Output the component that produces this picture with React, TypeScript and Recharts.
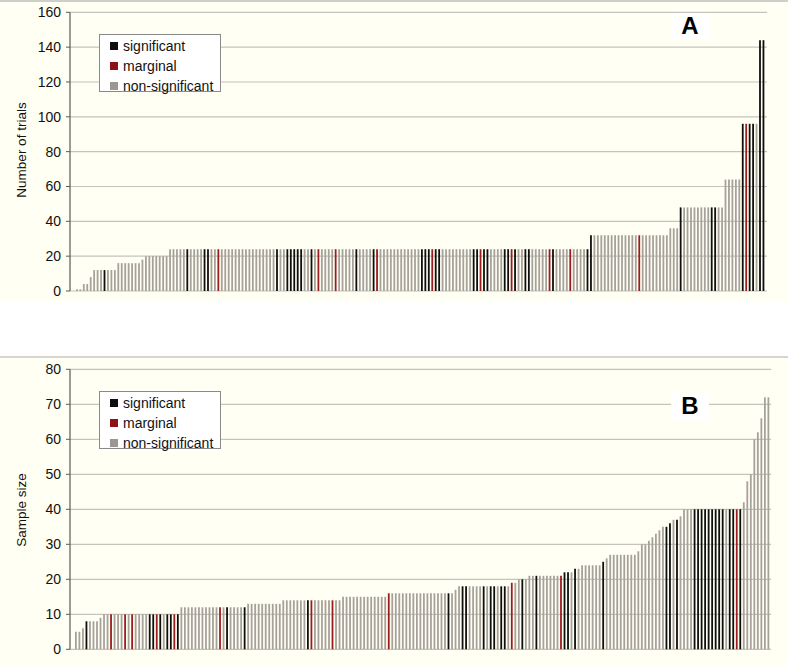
import React from "react";
import { BarChart, Bar, XAxis, YAxis, CartesianGrid, Cell } from "recharts";

// Panel A: number of trials per study (sorted)
const trialCounts = [
  1, 1, 4, 4, 8, 12, 12, 12, 12, 12, 12, 12, 16, 16, 16, 16, 16, 16, 16, 18,
  20, 20, 20, 20, 20, 20, 20, 24, 24, 24, 24, 24, 24, 24, 24, 24, 24, 24, 24, 24,
  24, 24, 24, 24, 24, 24, 24, 24, 24, 24, 24, 24, 24, 24, 24, 24, 24, 24, 24, 24,
  24, 24, 24, 24, 24, 24, 24, 24, 24, 24, 24, 24, 24, 24, 24, 24, 24, 24, 24, 24,
  24, 24, 24, 24, 24, 24, 24, 24, 24, 24, 24, 24, 24, 24, 24, 24, 24, 24, 24, 24,
  24, 24, 24, 24, 24, 24, 24, 24, 24, 24, 24, 24, 24, 24, 24, 24, 24, 24, 24, 24,
  24, 24, 24, 24, 24, 24, 24, 24, 24, 24, 24, 24, 24, 24, 24, 24, 24, 24, 24, 24,
  24, 24, 24, 24, 24, 24, 24, 24, 24, 32, 32, 32, 32, 32, 32, 32, 32, 32, 32, 32,
  32, 32, 32, 32, 32, 32, 32, 32, 32, 32, 32, 32, 36, 36, 36, 48, 48, 48, 48, 48,
  48, 48, 48, 48, 48, 48, 48, 48, 64, 64, 64, 64, 64, 96, 96, 96, 96, 96, 144, 144,
];
const trialsSignificant = [
  8, 32, 37, 38, 58, 61, 62, 63, 64, 65, 68, 81, 86, 100, 101, 102, 104, 105,
  115, 116, 118, 119, 124, 125, 127, 130, 131, 138, 148, 149, 175, 184, 185,
  193, 195, 196, 198, 199,
];
const trialsMarginal = [41, 70, 75, 87, 103, 117, 126, 137, 143, 163, 194];

// Panel B: sample size per study (sorted)
const sampleSizes = [
  5, 5, 6, 8, 8, 8, 8, 9, 10, 10, 10, 10, 10, 10, 10, 10, 10, 10, 10, 10,
  10, 10, 10, 10, 10, 10, 10, 10, 10, 10, 12, 12, 12, 12, 12, 12, 12, 12, 12, 12,
  12, 12, 12, 12, 12, 12, 12, 12, 12, 13, 13, 13, 13, 13, 13, 13, 13, 13, 13, 14,
  14, 14, 14, 14, 14, 14, 14, 14, 14, 14, 14, 14, 14, 14, 14, 14, 15, 15, 15, 15,
  15, 15, 15, 15, 15, 15, 15, 15, 15, 16, 16, 16, 16, 16, 16, 16, 16, 16, 16, 16,
  16, 16, 16, 16, 16, 16, 16, 16, 17, 18, 18, 18, 18, 18, 18, 18, 18, 18, 18, 18,
  18, 18, 18, 18, 19, 19, 20, 20, 20, 21, 21, 21, 21, 21, 21, 21, 21, 21, 21, 22,
  22, 22, 23, 23, 24, 24, 24, 24, 24, 24, 25, 26, 27, 27, 27, 27, 27, 27, 27, 27,
  28, 30, 30, 31, 32, 33, 34, 35, 35, 36, 37, 37, 38, 40, 40, 40, 40, 40, 40, 40,
  40, 40, 40, 40, 40, 40, 40, 40, 40, 40, 42, 48, 50, 60, 62, 66, 72, 72,
];
const sampleSignificant = [
  3, 21, 22, 24, 26, 27, 29, 43, 48, 66, 106, 110, 111, 116, 118, 119, 121, 122,
  127, 131, 139, 140, 142, 150, 168, 169, 171, 176, 177, 178, 179, 180, 181, 182,
  183, 184, 186, 187, 189,
];
const sampleMarginal = [10, 14, 16, 23, 28, 41, 67, 73, 89, 124, 138, 188];

const trialTicks = [0, 20, 40, 60, 80, 100, 120, 140, 160];
const sampleTicks = [0, 10, 20, 30, 40, 50, 60, 70, 80];
const legendLabels = ["significant", "marginal", "non-significant"];

const COLORS: Record<string, string> = {
  sig: "#0e0e0e",
  marg: "#9a1c1c",
  non: "#a7a19b",
};
const LEGEND_COLORS = ["#0e0e0e", "#8c1414", "#9c9791"];
const CREAM = "#fffff3";
const FONT = '"Liberation Sans", Arial, sans-serif';

function build(values: number[], sig: number[], marg: number[]) {
  return values.map((v, i) => ({
    i,
    v,
    s: sig.includes(i) ? "sig" : marg.includes(i) ? "marg" : "non",
  }));
}

const dataA = build(trialCounts, trialsSignificant, trialsMarginal);
const dataB = build(sampleSizes, sampleSignificant, sampleMarginal);

function LegendBox({ left, top }: { left: number; top: number }) {
  return (
    <div
      style={{
        position: "absolute",
        left,
        top,
        width: 122,
        height: 58,
        boxSizing: "border-box",
        background: "#ffffff",
        border: "1px solid #8a8a8a",
        fontFamily: FONT,
        fontSize: 14,
        color: "#111",
      }}
    >
      {legendLabels.map((lab, k) => (
        <div
          key={lab}
          style={{
            position: "absolute",
            left: 10,
            top: 2 + k * 20,
            height: 18,
            lineHeight: "18px",
            display: "flex",
            alignItems: "center",
            whiteSpace: "nowrap",
          }}
        >
          <span
            style={{
              display: "inline-block",
              width: 8,
              height: 8,
              background: LEGEND_COLORS[k],
              marginRight: 5,
            }}
          />
          {lab}
        </div>
      ))}
    </div>
  );
}

function Panel({
  data,
  top,
  height,
  margin,
  domainMax,
  ticks,
  padding,
}: {
  data: any[];
  top: number;
  height: number;
  margin: { top: number; right: number; bottom: number; left: number };
  domainMax: number;
  ticks: number[];
  padding: { left: number; right: number };
}) {
  return (
    <div style={{ position: "absolute", left: 0, top, width: 788, height }}>
      <BarChart width={788} height={height} data={data} margin={margin} barCategoryGap={0}>
        <CartesianGrid vertical={false} stroke="#c4c4bc" strokeWidth={1.2} />
        <XAxis dataKey="i" type="category" hide padding={padding} />
        <YAxis
          type="number"
          domain={[0, domainMax]}
          ticks={ticks}
          interval={0}
          width={70}
          axisLine={{ stroke: "#5a5a5a", strokeWidth: 1.2 }}
          tickLine={{ stroke: "#5a5a5a" }}
          tickSize={4}
          tickMargin={5}
          tick={{ fill: "#111", fontSize: 14, fontFamily: FONT }}
        />
        <Bar dataKey="v" barSize={1.8} isAnimationActive={false}>
          {data.map((d) => (
            <Cell key={d.i} fill={COLORS[d.s]} />
          ))}
        </Bar>
      </BarChart>
    </div>
  );
}

function AxisTitle({ text, cx, cy }: { text: string; cx: number; cy: number }) {
  return (
    <div
      style={{
        position: "absolute",
        left: cx - 100,
        top: cy - 8,
        width: 200,
        height: 16,
        lineHeight: "16px",
        textAlign: "center",
        transform: "rotate(-90deg)",
        fontFamily: FONT,
        fontSize: 13.5,
        color: "#111",
        whiteSpace: "nowrap",
      }}
    >
      {text}
    </div>
  );
}

function PanelLetter({ text, left, top }: { text: string; left: number; top: number }) {
  return (
    <div
      style={{
        position: "absolute",
        left,
        top,
        width: 38,
        height: 26,
        background: "#ffffff",
        textAlign: "center",
        lineHeight: "26px",
        fontFamily: FONT,
        fontWeight: 700,
        fontSize: 24,
        color: "#000",
      }}
    >
      {text}
    </div>
  );
}

export default function App() {
  return (
    <div
      style={{
        position: "absolute",
        left: 0,
        top: 0,
        width: 788,
        height: 667,
        background: "#ffffff",
        overflow: "hidden",
      }}
    >
      <div
        style={{
          position: "absolute",
          left: 0,
          top: 0,
          width: 788,
          height: 302,
          background: CREAM,
          borderTop: "2px solid #cfcfca",
          boxSizing: "border-box",
        }}
      />
      <div
        style={{
          position: "absolute",
          left: 0,
          top: 356,
          width: 788,
          height: 311,
          background: CREAM,
          borderTop: "2px solid #d6d6cf",
          boxSizing: "border-box",
        }}
      />
      <Panel
        data={dataA}
        top={0}
        height={300}
        margin={{ top: 12.3, right: 21, bottom: 9, left: 0 }}
        domainMax={160}
        ticks={trialTicks}
        padding={{ left: 5, right: 2 }}
      />
      <Panel
        data={dataB}
        top={356}
        height={311}
        margin={{ top: 13.3, right: 17, bottom: 17.7, left: 0 }}
        domainMax={80}
        ticks={sampleTicks}
        padding={{ left: 4, right: 1 }}
      />
      <AxisTitle text="Number of trials" cx={22} cy={150} />
      <AxisTitle text="Sample size" cx={22} cy={510} />
      <LegendBox left={99} top={34} />
      <LegendBox left={99} top={391} />
      <PanelLetter text="A" left={671} top={13} />
      <PanelLetter text="B" left={671} top={393} />
    </div>
  );
}
